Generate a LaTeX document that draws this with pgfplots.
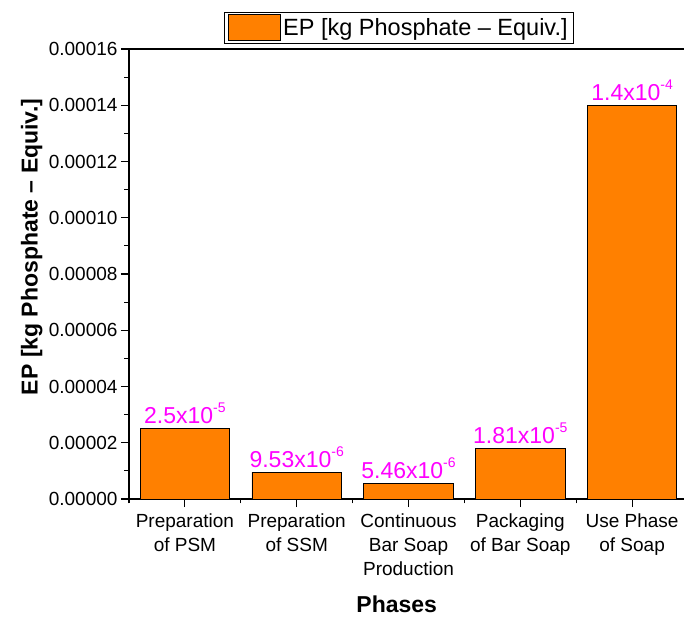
\documentclass[border=0pt]{standalone}
\usepackage{fontspec}
\setmainfont{Liberation Sans}
\usepackage{pgfplots}
\pgfplotsset{compat=1.18}
\definecolor{barorange}{RGB}{255,128,0}
\definecolor{labmag}{RGB}{255,0,255}
\DeclareRobustCommand\sups[1]{\raisebox{11pt}{\fontsize{14}{14}\selectfont #1}}

\begin{document}
\begin{tikzpicture}
\begin{axis}[
    scale only axis, width=559pt, height=450pt,
    ybar, bar width=0.8,
    xmin=0.5, xmax=5.5, ymin=0, ymax=0.00016,
    xtick={1,2,3,4,5},
    minor xtick={0.5,1.5,2.5,3.5,4.5,5.5},
    xticklabels={{Preparation\\of PSM},{Preparation\\of SSM},{Continuous\\Bar Soap\\Production},{Packaging\\of Bar Soap},{Use Phase\\of Soap}},
    ytick={0,0.00002,0.00004,0.00006,0.00008,0.0001,0.00012,0.00014,0.00016},
    minor y tick num=1,
    tick align=outside, xtick pos=bottom, ytick pos=left,
    major tick length=8pt, minor tick length=4.5pt,
    axis line style={line width=1.2pt, black},
    every tick/.style={line width=1.2pt, black},
    scaled y ticks=false,
    yticklabel style={/pgf/number format/.cd, fixed, fixed zerofill, precision=5, assume math mode=true},
    tick label style={font=\fontsize{19}{23}\selectfont},
    xticklabel style={align=center, font=\fontsize{19}{24}\selectfont, yshift=-3pt},
    xlabel={Phases},
    ylabel={EP [kg Phosphate – Equiv.]},
    xlabel style={font=\bfseries\fontsize{23}{27}\selectfont, at={(axis description cs:0.479,-0.233)}, anchor=center},
    ylabel style={font=\bfseries\fontsize{23}{27}\selectfont, at={(axis description cs:-0.174,0.56)}, anchor=center},
    nodes near coords, point meta=explicit symbolic,
    every node near coord/.append style={font=\fontsize{23}{27}\selectfont, text=labmag, anchor=base, yshift=5pt, inner sep=0pt},
    legend style={at={(axis description cs:0.483,1.047)}, anchor=center, draw=black, line width=0.8pt,
        font=\fontsize{23.5}{27}\selectfont, inner xsep=4pt, inner ysep=2pt},
    legend image code/.code={\draw[#1, line width=0.8pt] (0pt,-13pt) rectangle (52pt,13pt);},
]
\addplot[fill=barorange, draw=black, line width=0.8pt] coordinates {
    (1,2.5e-5) [2.5x10\sups{-5}]
    (2,9.53e-6) [9.53x10\sups{-6}]
    (3,5.46e-6) [5.46x10\sups{-6}]
    (4,1.81e-5) [1.81x10\sups{-5}]
    (5,1.4e-4) [1.4x10\sups{-4}]
};
\addlegendentry{EP [kg Phosphate – Equiv.]}
\end{axis}
\pgfresetboundingbox
\path (-129pt,-118pt) rectangle (555pt,499pt);
\end{tikzpicture}
\end{document}
